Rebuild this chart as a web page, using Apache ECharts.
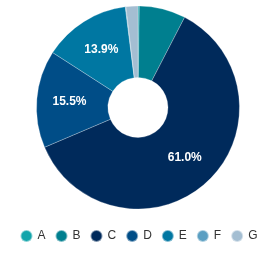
<!DOCTYPE html>
<html><head><meta charset="utf-8">
<script src="https://cdn.jsdelivr.net/npm/echarts@6/dist/echarts.min.js"></script>
<style>html,body{margin:0;padding:0;background:#fff}#c{width:277px;height:254px}</style>
</head><body><div id="c"></div>
<script>
const categories = ['A','B','C','D','E','F','G'];
const values = [0.2, 7.4, 61.0, 15.5, 13.9, 0.1, 1.9];
const colors = ['#13a5ab','#007f8f','#002a5b','#004d87','#0077a2','#5b9fc2','#a4bed2'];
const chart = echarts.init(document.getElementById('c'));
chart.setOption({
  animation: false,
  color: colors,
  legend: {
    bottom: 6, left: 'center', icon: 'circle', itemWidth: 12, itemHeight: 12, itemGap: 9,
    textStyle: {fontFamily: 'Liberation Sans', fontSize: 12, color: '#333'},
    data: categories
  },
  series: [{
    type: 'pie', center: [138, 107.5], radius: [30, 101.5], startAngle: 90, clockwise: true,
    itemStyle: {borderColor: 'rgba(255,255,255,0.5)', borderWidth: 0.5},
    label: {
      position: 'inside', color: '#fff', fontWeight: 'bold', fontSize: 12, fontFamily: 'Liberation Sans',
      formatter: p => p.percent >= 10 ? p.percent.toFixed(1) + '%' : ''
    },
    labelLine: {show: false},
    data: categories.map((c, i) => ({name: c, value: values[i]}))
  }]
});
</script></body></html>
